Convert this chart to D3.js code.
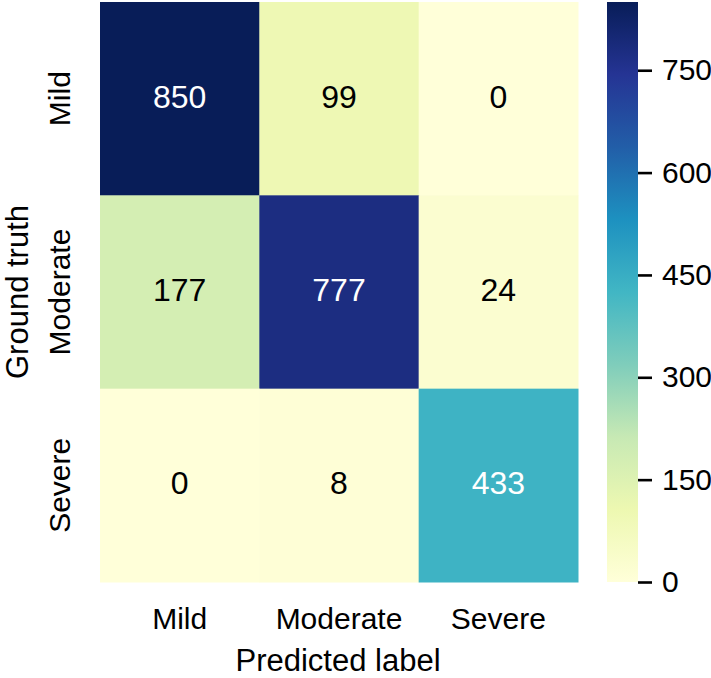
<!DOCTYPE html>
<html>
<head>
<meta charset="utf-8">
<script src="https://cdn.jsdelivr.net/npm/d3@7"></script>
<style>
  body { margin: 0; background: #fff; }
  text { font-family: "Liberation Sans", Arial, sans-serif; }
</style>
</head>
<body>
<svg id="chart" width="711" height="678"></svg>
<script>
// confusion matrix data
const classes = ['Mild', 'Moderate', 'Severe'];
const truthRows = ['Mild', 'Moderate', 'Severe'];
const counts = [
  [850, 99, 0],
  [177, 777, 24],
  [0, 8, 433]
];
const colorbarTicks = [0, 150, 300, 450, 600, 750];
// matplotlib YlGnBu stops (colorbrewer 9)
const ylgnbu = ['#ffffd9', '#edf8b1', '#c7e9b4', '#7fcdbb', '#41b6c4', '#1d91c0', '#225ea8', '#253494', '#081d58'];

const svg = d3.select('#chart');
const tickFs = 30;   // tick labels
const annFs = 32;    // cell numbers
const labelFs = 31;  // axis titles

const vmax = d3.max(counts.flat());
const color = d3.scaleLinear()
  .domain(ylgnbu.map((c, i) => vmax * i / (ylgnbu.length - 1)))
  .range(ylgnbu)
  .interpolate(d3.interpolateRgb);

const x = d3.scaleBand().domain(classes).range([100, 578]);
const y = d3.scaleBand().domain(truthRows).range([2, 582]);

const cells = [];
counts.forEach((row, i) => row.forEach((v, j) => cells.push({ r: truthRows[i], c: classes[j], v })));

svg.append('g').selectAll('rect')
  .data(cells)
  .enter()
  .append('rect')
  .attr('x', d => x(d.c))
  .attr('y', d => y(d.r))
  .attr('width', x.bandwidth() + 0.5)
  .attr('height', y.bandwidth() + 0.5)
  .attr('fill', d => color(d.v));

// annotation, white text on dark cells
function lum(c) {
  const rgb = d3.rgb(c);
  const f = u => { u /= 255; return u <= 0.03928 ? u / 12.92 : Math.pow((u + 0.055) / 1.055, 2.4); };
  return 0.2126 * f(rgb.r) + 0.7152 * f(rgb.g) + 0.0722 * f(rgb.b);
}
svg.append('g').selectAll('text')
  .data(cells)
  .enter()
  .append('text')
  .attr('x', d => x(d.c) + x.bandwidth() / 2)
  .attr('y', d => y(d.r) + y.bandwidth() / 2 + annFs * 0.36 - 2.5)
  .attr('text-anchor', 'middle')
  .attr('font-size', annFs)
  .attr('fill', d => lum(color(d.v)) > 0.408 ? '#000' : '#fff')
  .text(d => d.v);

// x tick labels
svg.append('g').selectAll('text')
  .data(classes)
  .enter()
  .append('text')
  .attr('x', d => x(d) + x.bandwidth() / 2)
  .attr('y', 629)
  .attr('text-anchor', 'middle')
  .attr('font-size', tickFs)
  .text(d => d);

// y tick labels
svg.append('g').selectAll('text')
  .data(truthRows)
  .enter()
  .append('text')
  .attr('transform', d => `translate(70,${y(d) + y.bandwidth() / 2}) rotate(-90)`)
  .attr('text-anchor', 'middle')
  .attr('font-size', tickFs)
  .text(d => d);

// axis titles, kept just inside the page edges
svg.append('text')
  .attr('x', 338)
  .attr('y', 671)
  .attr('text-anchor', 'middle')
  .attr('font-size', labelFs)
  .text('Predicted label');

svg.append('text')
  .attr('transform', 'translate(28,292) rotate(-90)')
  .attr('text-anchor', 'middle')
  .attr('font-size', labelFs)
  .text('Ground truth');

// colorbar
const cbScale = d3.scaleLinear().domain([0, vmax]).range([582, 2]);
const grad = svg.append('defs').append('linearGradient')
  .attr('id', 'cbgrad')
  .attr('x1', 0).attr('y1', 1).attr('x2', 0).attr('y2', 0);
grad.selectAll('stop')
  .data(ylgnbu)
  .enter()
  .append('stop')
  .attr('offset', (d, i) => i / (ylgnbu.length - 1))
  .attr('stop-color', d => d);

svg.append('rect')
  .attr('x', 607)
  .attr('y', cbScale(vmax))
  .attr('width', 31)
  .attr('height', cbScale(0) - cbScale(vmax))
  .attr('fill', 'url(#cbgrad)');

const cbAxis = svg.append('g')
  .attr('transform', 'translate(638,0)')
  .call(d3.axisRight(cbScale).tickValues(colorbarTicks).tickSize(14).tickPadding(10));
cbAxis.select('.domain').remove();
cbAxis.selectAll('line').attr('stroke', '#000').attr('stroke-width', 2.6);
cbAxis.selectAll('text')
  .attr('font-size', tickFs)
  .attr('font-family', '"Liberation Sans", Arial, sans-serif')
  .attr('fill', '#000');

console.log('heatmap drawn');
</script>
</body>
</html>
